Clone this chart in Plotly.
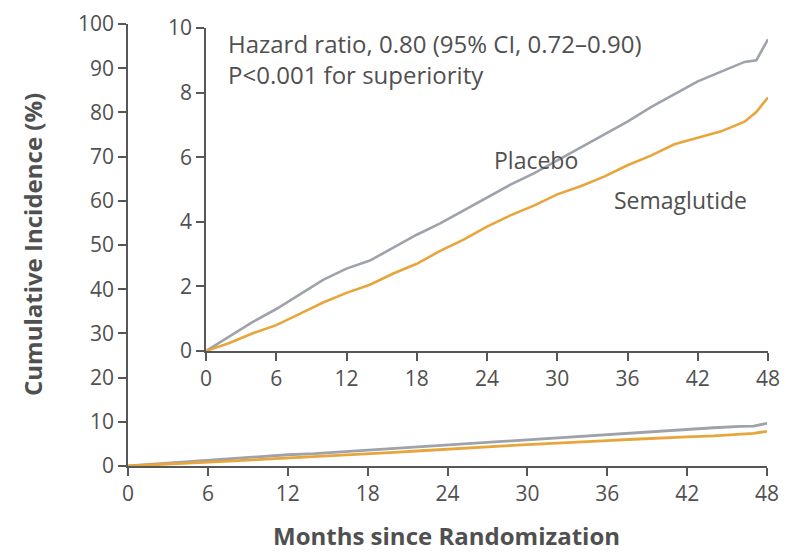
import plotly.graph_objects as go

# Months since randomization at which cumulative incidence is sampled
months = [0, 2, 4, 6, 8, 10, 12, 14, 16, 18, 20, 22, 24, 26, 28, 30, 32, 34, 36, 38, 40, 42, 44, 46, 47, 48]

# Cumulative incidence (%) for each group
placebo = [0, 0.45, 0.9, 1.3, 1.75, 2.2, 2.55, 2.8, 3.2, 3.6, 3.95, 4.35, 4.75, 5.15, 5.5, 5.9,
           6.3, 6.7, 7.1, 7.55, 7.95, 8.35, 8.65, 8.95, 9.0, 9.65]
semaglutide = [0, 0.25, 0.55, 0.8, 1.15, 1.5, 1.8, 2.05, 2.4, 2.7, 3.1, 3.45, 3.85, 4.2, 4.5, 4.85,
               5.1, 5.4, 5.75, 6.05, 6.4, 6.6, 6.8, 7.1, 7.4, 7.85]

x_ticks = [0, 6, 12, 18, 24, 30, 36, 42, 48]
main_y_ticks = [0, 10, 20, 30, 40, 50, 60, 70, 80, 90, 100]
inset_y_ticks = [0, 2, 4, 6, 8, 10]

GRAY_LINE = "#9ea2aa"
ORANGE_LINE = "#e8a53c"
AXIS = "#575757"
TEXT = "#505050"
FONT = "Open Sans, Noto Sans, sans-serif"

W, H = 787, 555


def px_x(p):
    return p / W


def px_y(p):
    return 1 - p / H


fig = go.Figure()

# Full-scale panel (0-100 %)
for name, ys, col in [("Placebo", placebo, GRAY_LINE), ("Semaglutide", semaglutide, ORANGE_LINE)]:
    fig.add_trace(go.Scatter(x=months, y=ys, mode="lines", name=name,
                             line=dict(color=col, width=2.8), xaxis="x", yaxis="y",
                             showlegend=False, hoverinfo="skip"))

# Enlarged inset (0-10 %)
for name, ys, col in [("Placebo", placebo, GRAY_LINE), ("Semaglutide", semaglutide, ORANGE_LINE)]:
    fig.add_trace(go.Scatter(x=months, y=ys, mode="lines", name=name,
                             line=dict(color=col, width=2.6), xaxis="x2", yaxis="y2",
                             showlegend=False, hoverinfo="skip"))

axis_common = dict(showgrid=False, zeroline=False, showline=True, linecolor=AXIS, linewidth=1.7,
                   ticks="outside", tickcolor=AXIS, tickwidth=1.7, ticklen=8, automargin=False,
                   tickfont=dict(family=FONT, size=21, color=TEXT))

fig.update_layout(
    width=W, height=H,
    margin=dict(l=0, r=0, t=0, b=0, pad=0),
    paper_bgcolor="white", plot_bgcolor="rgba(0,0,0,0)",
    xaxis=dict(domain=[px_x(128), px_x(767)], range=[0, 48], tickvals=x_ticks,
               anchor="y", **axis_common),
    yaxis=dict(domain=[px_y(466), px_y(24)], range=[0, 100], tickvals=main_y_ticks,
               anchor="x", **axis_common),
    xaxis2=dict(domain=[px_x(206), px_x(768)], range=[0, 48], tickvals=x_ticks,
                anchor="y2", **axis_common),
    yaxis2=dict(domain=[px_y(351), px_y(28)], range=[0, 10], tickvals=inset_y_ticks,
                anchor="x2", **axis_common),
)

annotations = [
    dict(text="Hazard ratio, 0.80 (95% CI, 0.72\u20130.90)<br>P<0.001 for superiority",
         xref="paper", yref="paper", x=px_x(226), y=px_y(25), xanchor="left", yanchor="top",
         align="left", showarrow=False, font=dict(family=FONT, size=24, color=TEXT)),
    dict(text="Placebo", xref="x2", yref="y2", x=28.2, y=5.91, xanchor="center", yanchor="middle",
         showarrow=False, font=dict(family=FONT, size=23, color=TEXT)),
    dict(text="Semaglutide", xref="x2", yref="y2", x=40.5, y=4.67, xanchor="center", yanchor="middle",
         showarrow=False, font=dict(family=FONT, size=23, color=TEXT)),
    dict(text="<b>Months since Randomization</b>", xref="paper", yref="paper",
         x=px_x(446), y=px_y(535), xanchor="center", yanchor="middle", showarrow=False,
         font=dict(family=FONT, size=24, color=TEXT)),
    dict(text="<b>Cumulative Incidence (%)</b>", xref="paper", yref="paper",
         x=px_x(33), y=px_y(245), xanchor="center", yanchor="middle", textangle=-90,
         showarrow=False, font=dict(family=FONT, size=24, color=TEXT)),
]
fig.update_layout(annotations=annotations)

fig.write_html("out.html")
